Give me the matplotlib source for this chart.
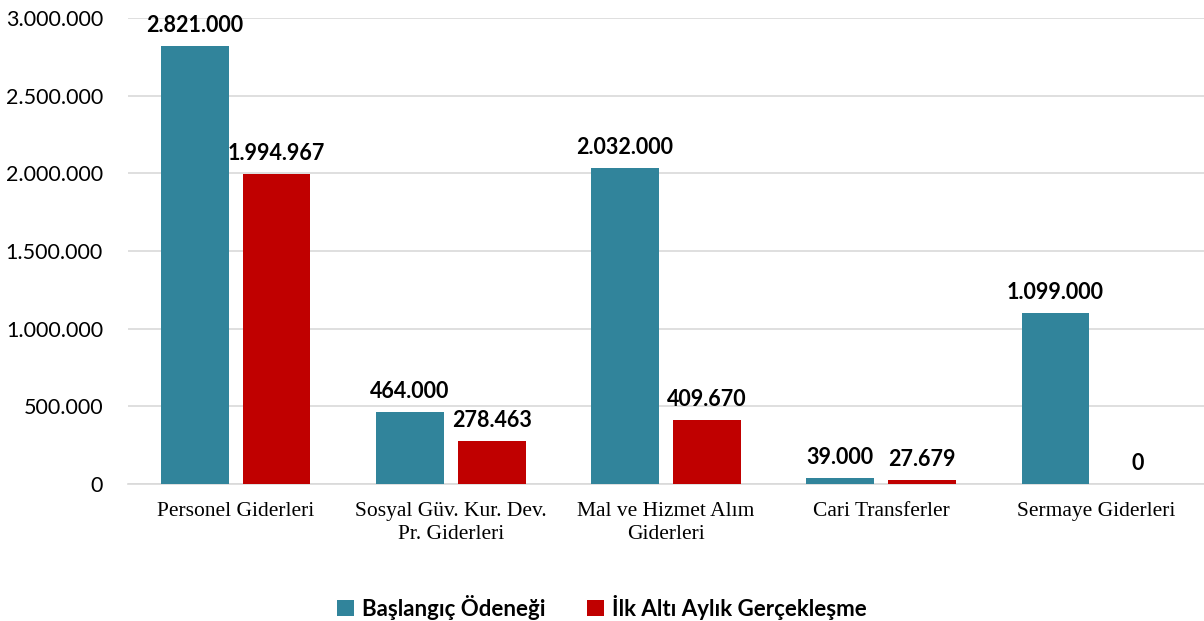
import matplotlib.pyplot as plt
import numpy as np
from matplotlib.ticker import FuncFormatter

categories = ["Personel Giderleri", "Sosyal Güv. Kur. Dev.\nPr. Giderleri",
              "Mal ve Hizmet Alım\nGiderleri", "Cari Transferler", "Sermaye Giderleri"]
baslangic = [2821000, 464000, 2032000, 39000, 1099000]
gerceklesme = [1994967, 278463, 409670, 27679, 0]
series_names = ["Başlangıç Ödeneği", "İlk Altı Aylık Gerçekleşme"]
colors = ["#31849B", "#C00000"]


def dotted(v):
    return f"{int(v):,}".replace(",", ".")


fig = plt.figure(figsize=(12.04, 6.21), dpi=100)
ax = fig.add_axes([0.1063, 0.2206, 0.8937, 0.7504])

x = np.arange(len(categories))
w = 0.315
off = 0.19
b1 = ax.bar(x - off, baslangic, w, color=colors[0], label=series_names[0], zorder=3)
b2 = ax.bar(x + off, gerceklesme, w, color=colors[1], label=series_names[1], zorder=3)

for bars, vals in ((b1, baslangic), (b2, gerceklesme)):
    for rect, v in zip(bars, vals):
        ax.annotate(dotted(v), (rect.get_x() + rect.get_width() / 2, v),
                    xytext=(0, 10), textcoords="offset points",
                    ha="center", va="baseline", fontsize=15.5, fontweight="bold",
                    family="Lato", color="black")

ax.set_xlim(-0.5, 4.5)
ax.set_ylim(0, 3000000)
ax.set_yticks(np.arange(0, 3000001, 500000))
ax.yaxis.set_major_formatter(FuncFormatter(lambda v, p: dotted(v)))
ax.grid(axis="y", color="#D9D9D9", linewidth=1.2, zorder=0)
for s in ("top", "right", "left"):
    ax.spines[s].set_visible(False)
ax.spines["bottom"].set_color("#D9D9D9")
ax.spines["bottom"].set_linewidth(1.2)
ax.tick_params(axis="y", length=0, pad=18, labelsize=15.5)
ax.tick_params(axis="x", length=0, pad=13)
for t in ax.get_yticklabels():
    t.set_family("Lato")
ax.set_xticks(x)
ax.set_xticklabels(categories, family="Liberation Serif", fontsize=15.5, linespacing=1.25)

fig.legend(loc="center", bbox_to_anchor=(0.5, 0.0225), ncol=2, frameon=False,
           handlelength=0.75, handleheight=0.75, handletextpad=0.35, columnspacing=1.9,
           prop={"family": "Lato", "weight": "bold", "size": 16})

fig.savefig("out.png", dpi=100)
